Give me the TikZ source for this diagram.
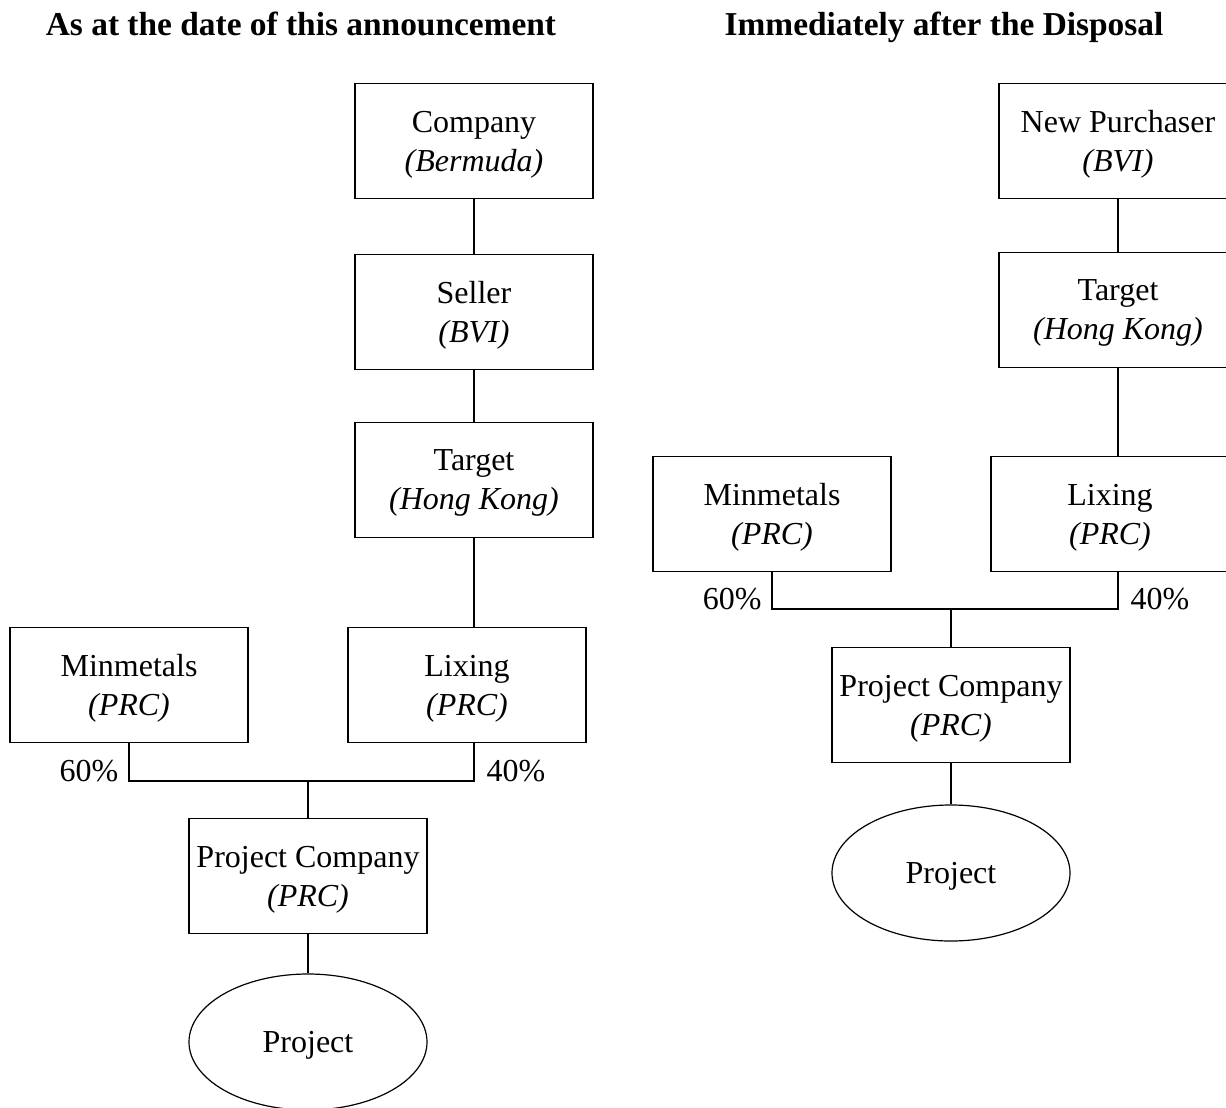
\documentclass[tikz,border=0pt]{standalone}
\usepackage{fontspec}
\setmainfont{Liberation Serif}
\usetikzlibrary{shapes.geometric}
\tikzset{
    entity/.style={draw=black, rectangle, minimum width=119pt, minimum height=57.5pt,
        inner sep=0pt, text depth=0pt, align=center, font=\fontsize{16}{19.5}\selectfont},
    project/.style={draw=black, ellipse, minimum width=119pt, minimum height=68pt,
        inner sep=0pt, text depth=0pt, font=\fontsize{16}{19.5}\selectfont},
    share/.style={inner sep=0pt, font=\fontsize{16}{19.5}\selectfont},
    heading/.style={inner sep=0pt, font=\fontsize{16.7}{20}\selectfont\bfseries},
    link/.style={draw=black},
}

\begin{document}
\begin{tikzpicture}[x=0.5pt, y=-0.5pt, line width=.6pt]

		\clip (0,0) rectangle (1226,1108);

		\node[heading, anchor=base] (headL) at (301,35) {As at the date of this announcement};
		\node[heading, anchor=base] (headR) at (944,35) {Immediately after the Disposal};

		% as at the date
		\node[entity] (comp) at (474,141) {Company\\\textit{(Bermuda)}};
		\node[entity] (seller) at (474,312) {Seller\\\textit{(BVI)}};
		\node[entity] (targetL) at (474,480) {Target\\\textit{(Hong Kong)}};
		\node[entity] (minL) at (129,685) {Minmetals\\\textit{(PRC)}};
		\node[entity] (lixL) at (467,685) {Lixing\\\textit{(PRC)}};
		\node[entity] (pcL) at (308,876) {Project Company\\\textit{(PRC)}};
		\node[project] (projL) at (308,1042) {Project};
		\coordinate (jL) at (308,781);

		\draw[link] (comp) -- (seller);
		\draw[link] (seller) -- (targetL);
		\draw[link] (targetL) -- (targetL |- lixL.north);
		\draw[link] (minL.south) |- (jL) -| (targetL |- lixL.south);
		\draw[link] (jL) -- (pcL);
		\draw[link] (pcL) -- (projL);
		\node[share, anchor=base east, xshift=-5pt] (pctminL) at (minL.south |- jL) {60\%};
		\node[share, anchor=base west, xshift=6pt] (pctlixL) at (targetL |- jL) {40\%};

		% after the disposal
		\node[entity] (purch) at (1118,141) {New Purchaser\\\textit{(BVI)}};
		\node[entity] (targetR) at (1118,310) {Target\\\textit{(Hong Kong)}};
		\node[entity] (minR) at (772,514) {Minmetals\\\textit{(PRC)}};
		\node[entity] (lixR) at (1110,514) {Lixing\\\textit{(PRC)}};
		\node[entity] (pcR) at (951,705) {Project Company\\\textit{(PRC)}};
		\node[project] (projR) at (951,873) {Project};
		\coordinate (jR) at (951,609);

		\draw[link] (purch) -- (targetR);
		\draw[link] (targetR) -- (targetR |- lixR.north);
		\draw[link] (minR.south) |- (jR) -| (targetR |- lixR.south);
		\draw[link] (jR) -- (pcR);
		\draw[link] (pcR) -- (projR);
		\node[share, anchor=base east, xshift=-5pt] (pctminR) at (minR.south |- jR) {60\%};
		\node[share, anchor=base west, xshift=6pt] (pctlixR) at (targetR |- jR) {40\%};

\end{tikzpicture}
\end{document}
